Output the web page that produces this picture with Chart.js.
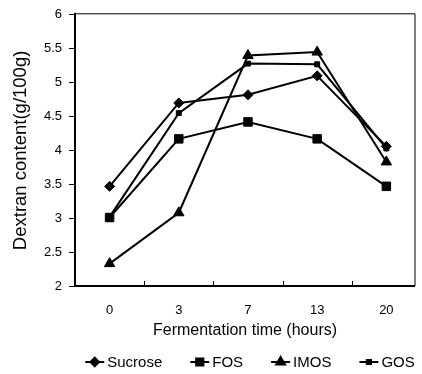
<!DOCTYPE html>
<html>
<head>
<meta charset="utf-8">
<script src="https://cdn.jsdelivr.net/npm/chart.js@4/dist/chart.umd.min.js"></script>
<style>
  html, body { margin: 0; padding: 0; background: #fff; }
  #wrap { width: 422px; height: 374px; }
</style>
</head>
<body>
<div id="wrap"><canvas id="myChart" width="422" height="374"></canvas></div>
<script>
const categories = ['0', '3', '7', '13', '20'];
const sucrose = [3.47, 4.7, 4.82, 5.1, 4.06];
const fos = [3.01, 4.17, 4.42, 4.17, 3.47];
const imos = [2.33, 3.08, 5.4, 5.45, 3.83];
const gos = [3.02, 4.55, 5.28, 5.27, 4.03];
const seriesNames = ['Sucrose', 'FOS', 'IMOS', 'GOS'];
const yTicks = [2, 2.5, 3, 3.5, 4, 4.5, 5, 5.5, 6];

const FONT = "'Liberation Sans', Arial, sans-serif";

const toPoints = arr => arr.map((v, i) => ({ x: i, y: v }));

const makeSet = (label, values, style, radius) => ({
  label: label,
  data: toPoints(values),
  borderColor: '#000',
  backgroundColor: '#000',
  borderWidth: 2,
  pointStyle: style,
  pointRadius: radius,
  pointBorderWidth: 1,
  tension: 0
});

// frame, inner x ticks and the line+marker legend
const framePlugin = {
  id: 'frame',
  afterDraw(chart) {
    const { ctx, chartArea: a, scales: { x } } = chart;
    ctx.save();
    ctx.strokeStyle = '#000';
    ctx.lineWidth = 1;
    ctx.beginPath();
    ctx.moveTo(a.left, a.top - 1);
    ctx.lineTo(a.right, a.top - 1);
    ctx.lineTo(a.right, a.bottom);
    ctx.stroke();
    ctx.lineWidth = 2;
    ctx.beginPath();
    ctx.moveTo(a.left, a.top - 2);
    ctx.lineTo(a.left, a.bottom);
    ctx.lineTo(a.right, a.bottom);
    ctx.stroke();
    ctx.lineWidth = 1;
    for (let i = 0; i < categories.length - 1; i++) {
      const px = Math.round(x.getPixelForValue(i + 0.5)) + 0.5;
      ctx.beginPath();
      ctx.moveTo(px, a.bottom);
      ctx.lineTo(px, a.bottom - 5);
      ctx.stroke();
    }

    // legend
    ctx.font = '15px ' + FONT;
    ctx.fillStyle = '#000';
    ctx.textBaseline = 'middle';
    const lineLen = 19, gapText = 3, gapItem = 28;
    const widths = seriesNames.map(n => lineLen + gapText + ctx.measureText(n).width);
    const total = widths.reduce((s, w) => s + w, 0) + gapItem * (widths.length - 1);
    let lx = 250 - total / 2;
    const ly = 362;
    chart.data.datasets.forEach((ds, i) => {
      ctx.lineWidth = 2;
      ctx.beginPath();
      ctx.moveTo(lx, ly);
      ctx.lineTo(lx + lineLen, ly);
      ctx.stroke();
      Chart.helpers.drawPoint(ctx, {
        pointStyle: ds.pointStyle,
        radius: ds.pointRadius * 0.85,
        rotation: 0,
        borderWidth: 1
      }, lx + lineLen / 2, ly);
      ctx.fill();
      ctx.fillText(ds.label, lx + lineLen + gapText, ly + 1);
      lx += widths[i] + gapItem;
    });
    ctx.restore();
  }
};

const ctx = document.getElementById('myChart').getContext('2d');
const myChart = new Chart(ctx, {
  type: 'line',
  data: {
    datasets: [
      makeSet(seriesNames[0], sucrose, 'rectRot', 5),
      makeSet(seriesNames[1], fos, 'rect', 6),
      makeSet(seriesNames[2], imos, 'triangle', 6),
      makeSet(seriesNames[3], gos, 'rect', 3.5)
    ]
  },
  options: {
    responsive: false,
    animation: false,
    layout: { padding: { left: 0, top: 13, right: 3, bottom: 34 } },
    scales: {
      x: {
        type: 'linear',
        min: -0.5,
        max: 4.414,
        afterBuildTicks: scale => {
          scale.ticks = categories.map((c, i) => ({ value: i }));
        },
        afterFit: scale => { scale.height = 54; },
        grid: { display: false },
        border: { display: false },
        ticks: {
          color: '#000',
          padding: 9,
          font: { family: FONT, size: 13 },
          callback: value => categories[value]
        },
        title: {
          display: true,
          text: 'Fermentation time (hours)',
          color: '#000',
          padding: { top: 0, bottom: 0 },
          font: { family: FONT, size: 16 }
        }
      },
      y: {
        min: 2,
        max: 6,
        afterBuildTicks: scale => {
          scale.ticks = yTicks.map(v => ({ value: v }));
        },
        afterFit: scale => { scale.width = 75; },
        grid: {
          display: true,
          drawOnChartArea: false,
          drawTicks: true,
          tickLength: 6,
          color: '#000'
        },
        border: { display: false },
        ticks: {
          color: '#000',
          padding: 7,
          font: { family: FONT, size: 13 },
          callback: value => String(value)
        },
        title: {
          display: true,
          text: 'Dextran content(g/100g)',
          color: '#000',
          padding: { top: 10, bottom: 0 },
          font: { family: FONT, size: 18.5 }
        }
      }
    },
    plugins: {
      legend: { display: false },
      tooltip: { enabled: false }
    }
  },
  plugins: [framePlugin]
});
</script>
</body>
</html>
